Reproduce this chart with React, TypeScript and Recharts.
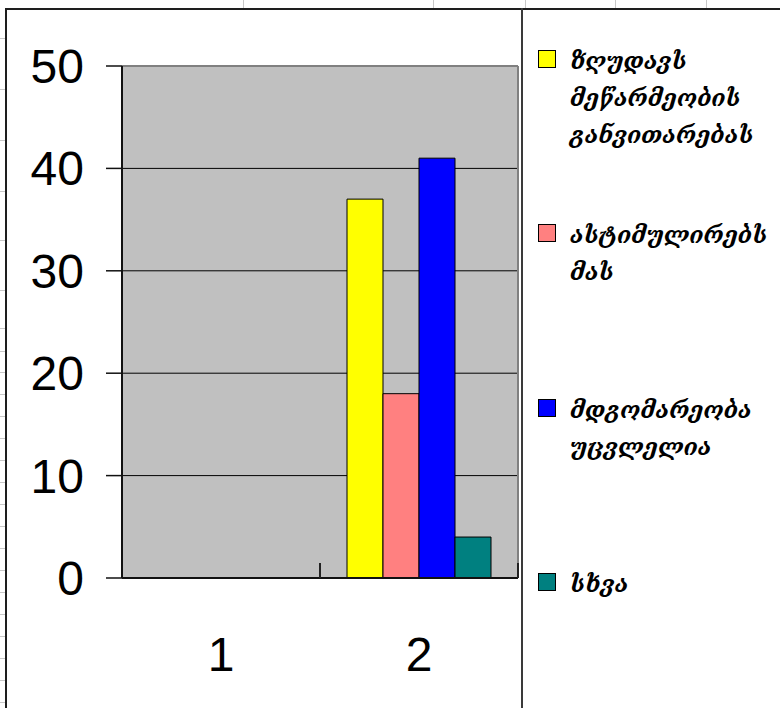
import React from 'react';
import {
  BarChart,
  Bar,
  XAxis,
  YAxis,
  CartesianGrid,
  Legend,
} from 'recharts';

// Survey question: answer counts per group
const categories = ['1', '2'];
const limitsGrowth = [null, 37];
const stimulates = [null, 18];
const unchanged = [null, 41];
const other = [null, 4];
const yTicks = [0, 10, 20, 30, 40, 50];

const seriesNames = [
  'ზღუდავს მეწარმეობის განვითარებას',
  'ასტიმულირებს მას',
  'მდგომარეობა უცვლელია',
  'სხვა',
];
const seriesValues = [limitsGrowth, stimulates, unchanged, other];
const seriesColors = ['#FFFF00', '#FF8080', '#0000FF', '#008080'];

const data = categories.map((cat, i) => {
  const row: Record<string, string | number | null> = { cat };
  seriesValues.forEach((vals, s) => {
    row[`s${s}`] = vals[i];
  });
  return row;
});

const W = 780;
const H = 708;
const AXIS_FONT = '"Liberation Sans", Arial, sans-serif';
const LEGEND_FONT = '"DejaVu Serif", serif';
const X_TICK_MARGIN = 59;
const CAT_MARK = 15;

// Category label plus an inward tick mark on the right edge of each band
const CategoryTick = (props: any) => {
  const { x, y, payload, width, visibleTicksCount } = props;
  const axisY = y - X_TICK_MARGIN;
  const band = width && visibleTicksCount ? width / visibleTicksCount : 0;
  return (
    <g>
      {band > 0 && (
        <line
          x1={x + band / 2}
          x2={x + band / 2}
          y1={axisY}
          y2={axisY - CAT_MARK}
          stroke="#222"
          strokeWidth={2}
        />
      )}
      <text
        x={x}
        y={y}
        dy="0.71em"
        textAnchor="middle"
        fontSize={48}
        fontFamily={AXIS_FONT}
        fill="#000"
      >
        {payload.value}
      </text>
    </g>
  );
};

const LegendBox = () => (
  <div
    style={{
      width: '100%',
      height: '100%',
      boxSizing: 'border-box',
      borderLeft: '2px solid #3a3a3a',
      position: 'relative',
    }}
  >
    {seriesNames.map((name, i) => (
      <div
        key={name}
        style={{
          position: 'absolute',
          left: 15,
          top: 42 + i * 174.3,
          display: 'flex',
          alignItems: 'flex-start',
        }}
      >
        <div
          style={{
            width: 18,
            height: 18,
            boxSizing: 'border-box',
            border: '1px solid #000',
            background: seriesColors[i],
            flex: 'none',
          }}
        />
        <div
          style={{
            marginLeft: 14,
            marginTop: -8,
            fontFamily: LEGEND_FONT,
            fontStyle: 'italic',
            fontWeight: 'bold',
            fontSize: 23,
            lineHeight: '37px',
            color: '#000',
          }}
        >
          {name.split(' ').map((w) => (
            <div key={w}>{w}</div>
          ))}
        </div>
      </div>
    ))}
  </div>
);

// Faint worksheet cell lines showing around the embedded chart
const sheetCols = [243, 433, 525, 615, 706];
const sheetRows = [38, 89, 140, 191, 240, 290, 328, 351, 372, 394, 416, 438, 460, 482, 504, 526, 548, 570, 592, 614, 636, 658, 680, 702];

export default function App() {
  return (
    <div
      style={{
        position: 'absolute',
        left: 0,
        top: 0,
        width: W,
        height: H,
        background: '#fff',
        overflow: 'hidden',
      }}
    >
      {sheetCols.map((x) => (
        <div
          key={`c${x}`}
          style={{ position: 'absolute', left: x, top: 0, width: 1, height: 8, background: '#c8c8c8' }}
        />
      ))}
      {sheetRows.map((y) => (
        <div
          key={`r${y}`}
          style={{ position: 'absolute', left: 0, top: y, width: 5, height: 1, background: '#c8c8c8' }}
        />
      ))}
      <div
        style={{
          position: 'absolute',
          left: 5,
          top: 8,
          width: W,
          height: H,
          borderLeft: '2px solid #1e1e1e',
          borderTop: '2px solid #1e1e1e',
        }}
      />
      <div style={{ position: 'absolute', left: 0, top: 0 }}>
        <BarChart
          width={W}
          height={H}
          data={data}
          margin={{ top: 66, right: 3, bottom: 0, left: 0 }}
          barCategoryGap={27}
          barGap={0}
        >
          <CartesianGrid
            vertical={false}
            horizontalValues={[10, 20, 30, 40]}
            stroke="#000"
            strokeWidth={1}
            fill="#C0C0C0"
            fillOpacity={1}
          />
          <CartesianGrid
            stroke="#808080"
            strokeWidth={2}
            horizontalCoordinatesGenerator={({ offset }: any) => [offset.top]}
            verticalCoordinatesGenerator={({ offset }: any) => [offset.left + offset.width]}
          />
          {seriesNames.map((name, i) => (
            <Bar
              key={name}
              dataKey={`s${i}`}
              name={name}
              fill={seriesColors[i]}
              stroke="#000"
              strokeWidth={1}
              isAnimationActive={false}
            />
          ))}
          <XAxis
            dataKey="cat"
            height={130}
            tickLine={false}
            tickSize={0}
            tickMargin={X_TICK_MARGIN}
            axisLine={{ stroke: '#111', strokeWidth: 2 }}
            tick={<CategoryTick />}
            interval={0}
          />
          <YAxis
            width={122}
            domain={[0, 50]}
            ticks={yTicks}
            interval={0}
            tickSize={16}
            tickMargin={22}
            axisLine={{ stroke: '#111', strokeWidth: 2 }}
            tickLine={{ stroke: '#111', strokeWidth: 1.5 }}
            tick={{ fontSize: 48, fontFamily: AXIS_FONT, fill: '#000' }}
          />
          <Legend
            layout="vertical"
            align="right"
            verticalAlign="top"
            content={<LegendBox />}
            wrapperStyle={{ left: 521, top: 8, width: 259, height: 700 }}
          />
        </BarChart>
      </div>
    </div>
  );
}
